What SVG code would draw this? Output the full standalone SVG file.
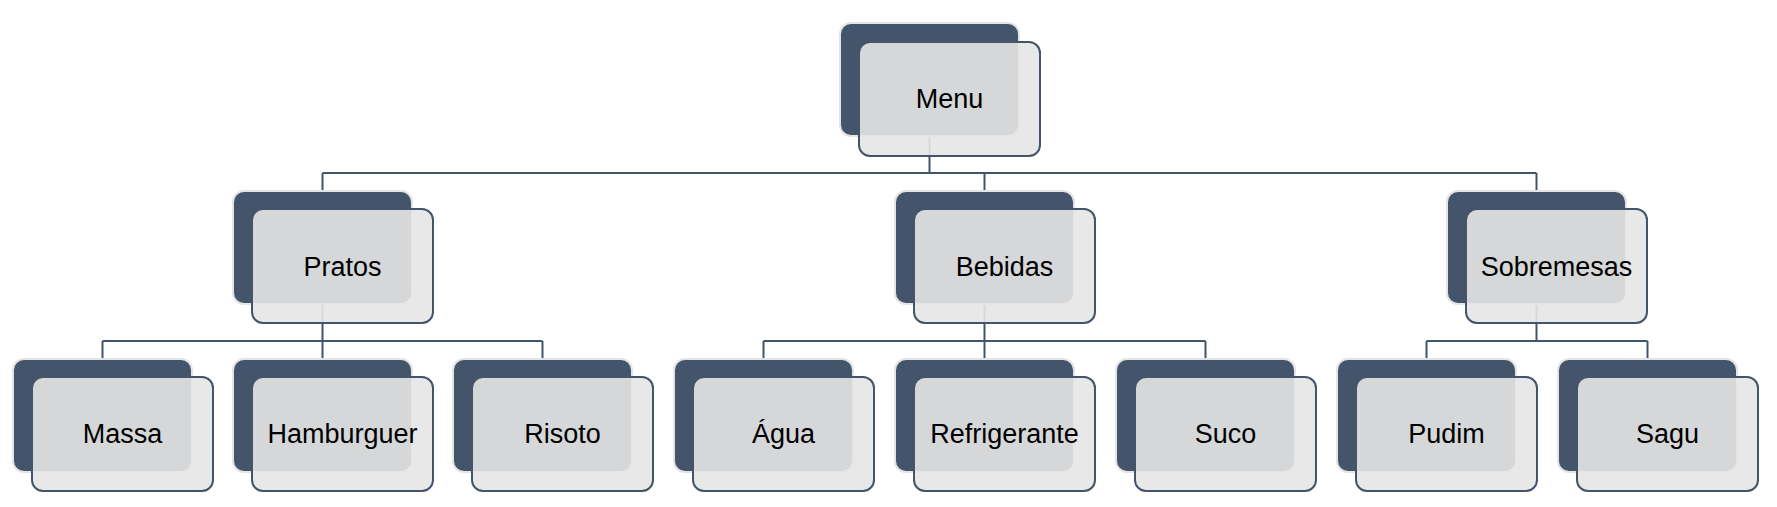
<svg xmlns="http://www.w3.org/2000/svg" width="1777" height="507" viewBox="0 0 1777 507">
<style>
.bg{fill:#44546a;stroke:#e4e4e6;stroke-width:2}
.fg{fill:#e5e5e5;fill-opacity:0.9;stroke:#44546a;stroke-width:2}
.t{font-family:"Liberation Sans",Arial,sans-serif;font-size:27px;fill:#000;text-anchor:middle}
.c{fill:none;stroke:#44546a;stroke-width:2}
</style>
<rect width="1777" height="507" fill="#fff"/>
<g id="connectors">
<path class="c" d="M929.5 137V173M322.5 173H1536.5M322.5 173V191M984.5 173V191M1536.5 173V191"/>
<path class="c" d="M322.5 304V341M102.5 341H542.5M102.5 341V359M322.5 341V359M542.5 341V359"/>
<path class="c" d="M984.5 304V341M763.5 341H1205.5M763.5 341V359M984.5 341V359M1205.5 341V359"/>
<path class="c" d="M1536.5 304V341M1426.5 341H1647.5M1426.5 341V359M1647.5 341V359"/>
</g>
<g id="menu"><rect class="bg" x="840" y="23" width="179" height="113" rx="11"/><rect class="fg" x="859" y="42" width="181" height="114" rx="11"/><text class="t" x="949.5" y="108">Menu</text></g>
<g id="pratos"><rect class="bg" x="233" y="191" width="179" height="113" rx="11"/><rect class="fg" x="252" y="209" width="181" height="114" rx="11"/><text class="t" x="342.5" y="276">Pratos</text></g>
<g id="bebidas"><rect class="bg" x="895" y="191" width="179" height="113" rx="11"/><rect class="fg" x="914" y="209" width="181" height="114" rx="11"/><text class="t" x="1004.5" y="276">Bebidas</text></g>
<g id="sobremesas"><rect class="bg" x="1447" y="191" width="179" height="113" rx="11"/><rect class="fg" x="1466" y="209" width="181" height="114" rx="11"/><text class="t" x="1556.5" y="276">Sobremesas</text></g>
<g id="massa"><rect class="bg" x="13" y="359" width="179" height="113" rx="11"/><rect class="fg" x="32" y="377" width="181" height="114" rx="11"/><text class="t" x="122.5" y="443">Massa</text></g>
<g id="hamburguer"><rect class="bg" x="233" y="359" width="179" height="113" rx="11"/><rect class="fg" x="252" y="377" width="181" height="114" rx="11"/><text class="t" x="342.5" y="443">Hamburguer</text></g>
<g id="risoto"><rect class="bg" x="453" y="359" width="179" height="113" rx="11"/><rect class="fg" x="472" y="377" width="181" height="114" rx="11"/><text class="t" x="562.5" y="443">Risoto</text></g>
<g id="agua"><rect class="bg" x="674" y="359" width="179" height="113" rx="11"/><rect class="fg" x="693" y="377" width="181" height="114" rx="11"/><text class="t" x="783.5" y="443">Água</text></g>
<g id="refrigerante"><rect class="bg" x="895" y="359" width="179" height="113" rx="11"/><rect class="fg" x="914" y="377" width="181" height="114" rx="11"/><text class="t" x="1004.5" y="443">Refrigerante</text></g>
<g id="suco"><rect class="bg" x="1116" y="359" width="179" height="113" rx="11"/><rect class="fg" x="1135" y="377" width="181" height="114" rx="11"/><text class="t" x="1225.5" y="443">Suco</text></g>
<g id="pudim"><rect class="bg" x="1337" y="359" width="179" height="113" rx="11"/><rect class="fg" x="1356" y="377" width="181" height="114" rx="11"/><text class="t" x="1446.5" y="443">Pudim</text></g>
<g id="sagu"><rect class="bg" x="1558" y="359" width="179" height="113" rx="11"/><rect class="fg" x="1577" y="377" width="181" height="114" rx="11"/><text class="t" x="1667.5" y="443">Sagu</text></g>
</svg>
